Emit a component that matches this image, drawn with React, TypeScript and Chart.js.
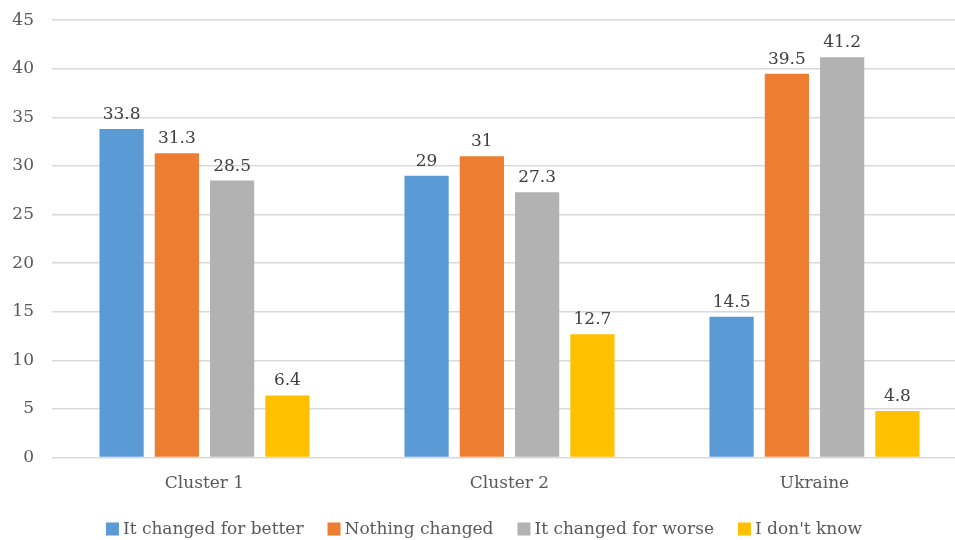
import React, { useEffect, useRef } from "react";
import { Chart, registerables } from "chart.js";

Chart.register(...registerables);

const categories = ["Cluster 1", "Cluster 2", "Ukraine"];
const seriesNames = ["It changed for better", "Nothing changed", "It changed for worse", "I don't know"];
const better = [33.8, 29, 14.5];
const nothing = [31.3, 31, 39.5];
const worse = [28.5, 27.3, 41.2];
const dontKnow = [6.4, 12.7, 4.8];
const colors = ["#5B9BD5", "#ED7D31", "#B2B2B2", "#FFC000"];
const yTicks = [0, 5, 10, 15, 20, 25, 30, 35, 40, 45];

const FONT = "'DejaVu Serif', 'Liberation Serif', serif";
const SIZE = 17;

const valueLabels = {
  id: "valueLabels",
  afterDatasetsDraw(chart: any) {
    const ctx = chart.ctx;
    ctx.save();
    ctx.font = `${SIZE}px ${FONT}`;
    ctx.fillStyle = "#404040";
    ctx.textAlign = "center";
    ctx.textBaseline = "alphabetic";
    chart.data.datasets.forEach((ds: any, i: number) => {
      const meta = chart.getDatasetMeta(i);
      meta.data.forEach((bar: any, j: number) => {
        ctx.fillText(String(ds.data[j]), bar.x, bar.y - 10);
      });
    });
    ctx.restore();
  },
};

const customLegend = {
  id: "customLegend",
  afterDraw(chart: any) {
    const ctx = chart.ctx;
    ctx.save();
    ctx.font = `${SIZE}px ${FONT}`;
    ctx.textBaseline = "middle";
    ctx.textAlign = "left";
    const box = 13;
    const gapBoxText = 4;
    const gapItems = 24;
    const widths = chart.data.datasets.map((ds: any) => box + gapBoxText + ctx.measureText(ds.label).width);
    const total = widths.reduce((a: number, b: number) => a + b, 0) + gapItems * (widths.length - 1);
    let x = 484 - total / 2;
    const y = 537;
    chart.data.datasets.forEach((ds: any, i: number) => {
      ctx.fillStyle = ds.backgroundColor;
      ctx.fillRect(x, y - box / 2, box, box);
      ctx.fillStyle = "#595959";
      ctx.fillText(ds.label, x + box + gapBoxText, y + 1);
      x += widths[i] + gapItems;
    });
    ctx.restore();
  },
};

export default function App() {
  const ref = useRef<HTMLCanvasElement>(null);
  useEffect(() => {
    if (!ref.current) return;
    const chart = new Chart(ref.current, {
      type: "bar",
      data: {
        labels: categories,
        datasets: [better, nothing, worse, dontKnow].map((d, i) => ({
          label: seriesNames[i],
          data: d,
          backgroundColor: colors[i],
          categoryPercentage: 0.725,
          barPercentage: 0.8,
        })),
      },
      options: {
        animation: false,
        responsive: false,
        maintainAspectRatio: false,
        layout: { padding: { left: 0, right: 3, top: 3, bottom: 38 } },
        plugins: { legend: { display: false }, tooltip: { enabled: false } },
        scales: {
          x: {
            grid: { display: false },
            border: { color: "#D9D9D9" },
            ticks: { color: "#595959", font: { family: FONT, size: SIZE }, padding: 8 },
          },
          y: {
            min: 0,
            max: 45,
            afterBuildTicks: (axis: any) => {
              axis.ticks = yTicks.map((v) => ({ value: v }));
            },
            afterFit: (axis: any) => {
              axis.width = 52;
            },
            grid: { color: "#D9D9D9", lineWidth: 1.5, drawTicks: false },
            border: { display: false },
            ticks: { color: "#595959", font: { family: FONT, size: SIZE }, padding: 18 },
          },
        },
      },
      plugins: [valueLabels, customLegend],
    });
    return () => chart.destroy();
  }, []);
  return (
    <div style={{ position: "fixed", left: 0, top: 0, width: 955, height: 540, overflow: "hidden", background: "#fff" }}>
      <canvas ref={ref} width={970} height={548} style={{ display: "block", position: "absolute", left: 0, top: -8 }} />
    </div>
  );
}
